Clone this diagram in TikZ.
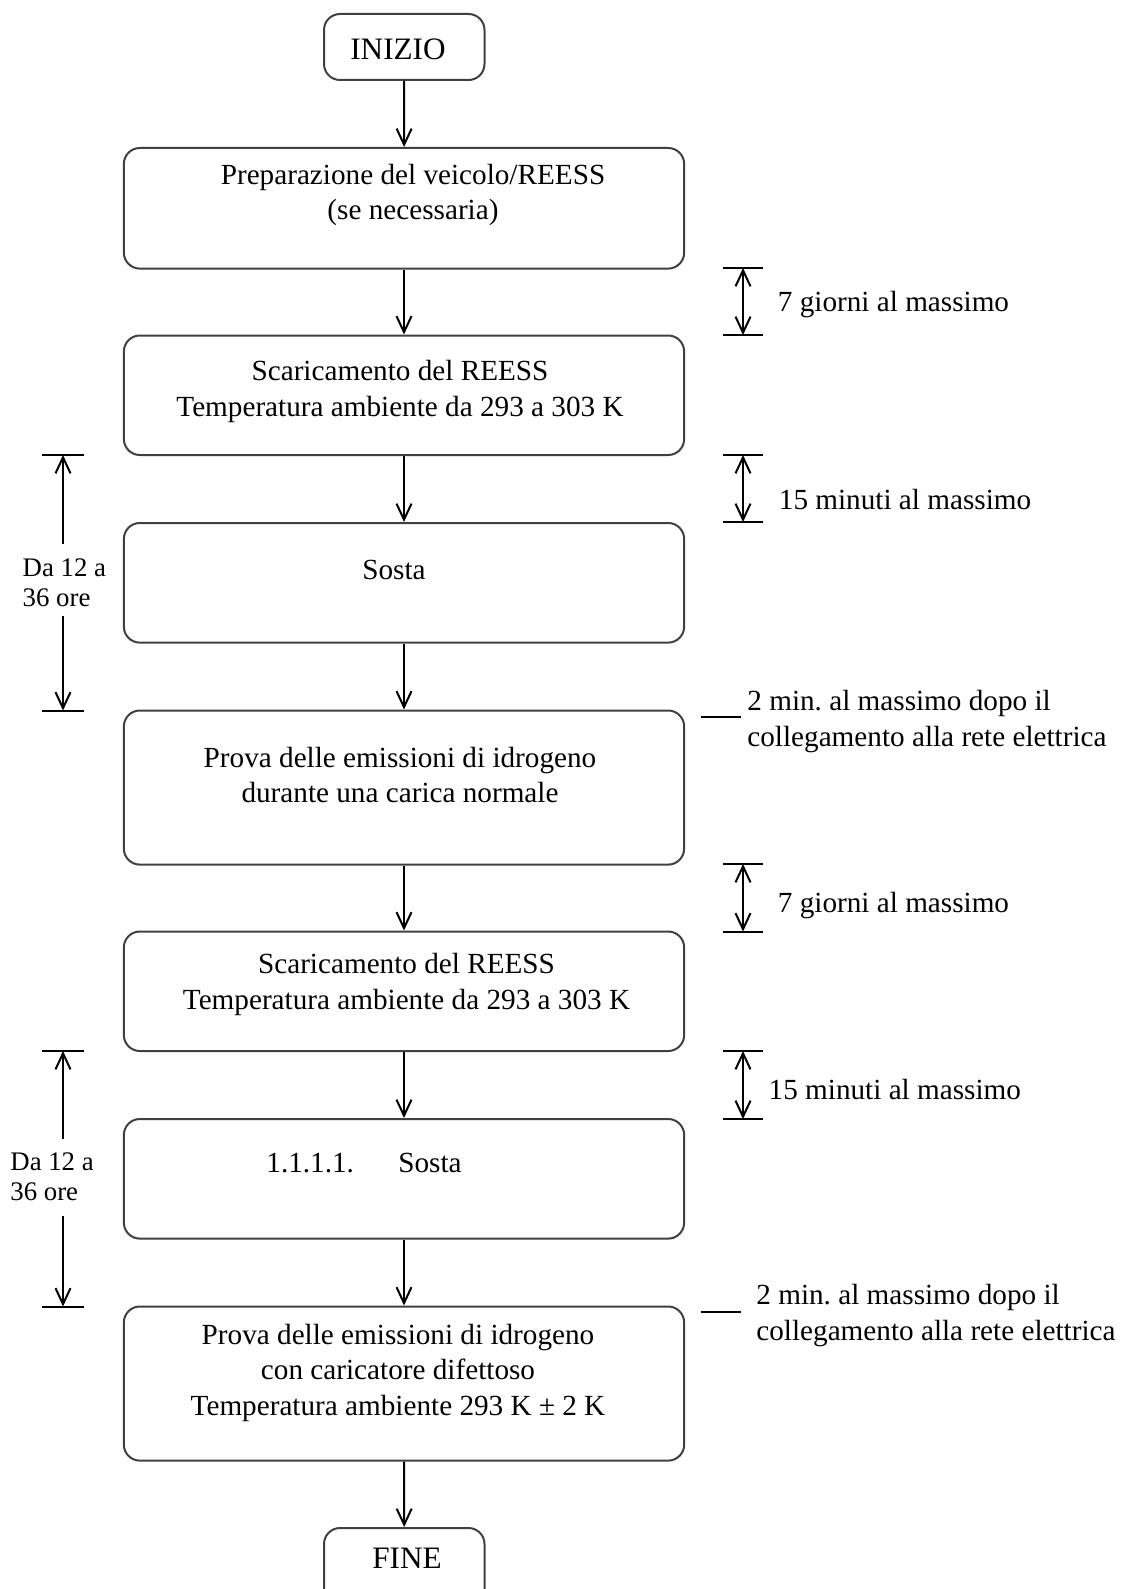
\documentclass[tikz,border=0pt]{standalone}
\usepackage{fontspec}
\setmainfont{Liberation Serif}
\usetikzlibrary{arrows.meta}
\frenchspacing

\begin{document}
\begin{tikzpicture}[x=0.5pt,y=-0.5pt,
  box/.style={draw=black!75, line width=1pt, rounded corners=8pt, minimum width=280.15pt, inner sep=0pt},
  term/.style={draw=black!75, line width=1pt, rounded corners=8pt, minimum width=80.25pt, inner sep=0pt},
  txt/.style={inner sep=0pt, align=center, font=\fontsize{14.6}{17.75}\selectfont},
  note/.style={inner sep=0pt, align=left, anchor=west, font=\fontsize{14.6}{18}\selectfont},
  side/.style={inner sep=0pt, align=left, anchor=west, font=\fontsize{13.4}{15.2}\selectfont},
  tip/.tip={Straight Barb[length=8pt,width=7.5pt]},
  flow/.style={line width=1pt, -tip},
  span/.style={line width=1pt, tip-tip},
  bar/.style={line width=1pt}
]
\useasboundingbox (0,0) rectangle (1122,1589);
\clip (0,0) rectangle (1122,1589);

% main chain of steps
\node[term, minimum height=33pt] (start) at (404.25,47) {};
\node[txt, font=\fontsize{15.6}{18}\selectfont] (startT) at (398,49.5) {INIZIO};

\node[box, minimum height=60.3pt] (b1) at (404,208.3) {};
\node[txt] (t1) at (413,195) {Preparazione del veicolo/REESS\\(se necessaria)};

\node[box, minimum height=59.75pt] (b2) at (404,395.25) {};
\node[txt] (t2) at (400,391.7) {Scaricamento del REESS\\Temperatura ambiente da 293 a 303 K};

\node[box, minimum height=59.8pt] (b3) at (404,582.8) {};
\node[txt] (t3) at (394,569.6) {Sosta};

\node[box, minimum height=77.05pt] (b4) at (404,787.55) {};
\node[txt] (t4) at (400,774.8) {Prova delle emissioni di idrogeno\\durante una carica normale};

\node[box, minimum height=59.75pt] (b5) at (404,991.25) {};
\node[txt] (t5) at (406.5,984.5) {Scaricamento del REESS\\Temperatura ambiente da 293 a 303 K};

\node[box, minimum height=59.8pt] (b6) at (404,1178.8) {};
\node[txt, anchor=west] (t6) at (266,1163) {\makebox[66pt][l]{1.1.1.1.}Sosta};

\node[box, minimum height=77.05pt] (b7) at (404,1383.55) {};
\node[txt] (t7) at (398,1372.5) {Prova delle emissioni di idrogeno\\con caricatore difettoso\\Temperatura ambiente 293 K ± 2 K};

\node[term, minimum height=40pt] (end) at (404.25,1568) {};
\node[txt, font=\fontsize{15.6}{18}\selectfont] (endT) at (407,1558.5) {FINE};

% connectors between steps
\draw[flow] (start) -- (b1);
\draw[flow] (b1) -- (b2);
\draw[flow] (b2) -- (b3);
\draw[flow] (b3) -- (b4);
\draw[flow] (b4) -- (b5);
\draw[flow] (b5) -- (b6);
\draw[flow] (b6) -- (b7);
\draw[flow] (b7) -- (end);

% time limits on the right
\coordinate (r1a) at (743,268);  \coordinate (r1b) at (743,335);
\draw[bar] ([xshift=-10pt]r1a) -- ([xshift=10pt]r1a);
\draw[bar] ([xshift=-10pt]r1b) -- ([xshift=10pt]r1b);
\draw[span] (r1a) -- (r1b);
\node[note] (n1) at (777.5,305) {7 giorni al massimo};

\coordinate (r2a) at (743,455);  \coordinate (r2b) at (743,522);
\draw[bar] ([xshift=-10pt]r2a) -- ([xshift=10pt]r2a);
\draw[bar] ([xshift=-10pt]r2b) -- ([xshift=10pt]r2b);
\draw[span] (r2a) -- (r2b);
\node[note] (n2) at (778.5,500) {15 minuti al massimo};

\coordinate (r3) at (720.5,716.6);
\draw[bar] ([xshift=-10pt]r3) -- ([xshift=10pt]r3);
\node[note] (n3) at (747,722) {2 min. al massimo dopo il\\collegamento alla rete elettrica};

\coordinate (r4a) at (743,864);  \coordinate (r4b) at (743,931.5);
\draw[bar] ([xshift=-10pt]r4a) -- ([xshift=10pt]r4a);
\draw[bar] ([xshift=-10pt]r4b) -- ([xshift=10pt]r4b);
\draw[span] (r4a) -- (r4b);
\node[note] (n4) at (777.5,906) {7 giorni al massimo};

\coordinate (r5a) at (743,1051);  \coordinate (r5b) at (743,1119);
\draw[bar] ([xshift=-10pt]r5a) -- ([xshift=10pt]r5a);
\draw[bar] ([xshift=-10pt]r5b) -- ([xshift=10pt]r5b);
\draw[span] (r5a) -- (r5b);
\node[note] (n5) at (768.3,1089) {15 minuti al massimo};

\coordinate (r6) at (720.5,1311.6);
\draw[bar] ([xshift=-10pt]r6) -- ([xshift=10pt]r6);
\node[note] (n6) at (756,1316) {2 min. al massimo dopo il\\collegamento alla rete elettrica};

% rest periods on the left
\coordinate (l1a) at (63,455);  \coordinate (l1b) at (63,710.5);
\draw[bar] ([xshift=-10.35pt]l1a) -- ([xshift=10.35pt]l1a);
\draw[bar] ([xshift=-10.35pt]l1b) -- ([xshift=10.35pt]l1b);
\node[side] (s1) at (22.3,582.5) {Da 12 a\\36 ore};
\coordinate (l1u) at (63,544);  \coordinate (l1d) at (63,616);
\draw[flow] (l1u) -- (l1a);
\draw[flow] (l1d) -- (l1b);

\coordinate (l2a) at (63,1051);  \coordinate (l2b) at (63,1306.5);
\draw[bar] ([xshift=-10.35pt]l2a) -- ([xshift=10.35pt]l2a);
\draw[bar] ([xshift=-10.35pt]l2b) -- ([xshift=10.35pt]l2b);
\node[side] (s2) at (10,1176.5) {Da 12 a\\36 ore};
\coordinate (l2u) at (63,1139);  \coordinate (l2d) at (63,1216);
\draw[flow] (l2u) -- (l2a);
\draw[flow] (l2d) -- (l2b);
\end{tikzpicture}
\end{document}
